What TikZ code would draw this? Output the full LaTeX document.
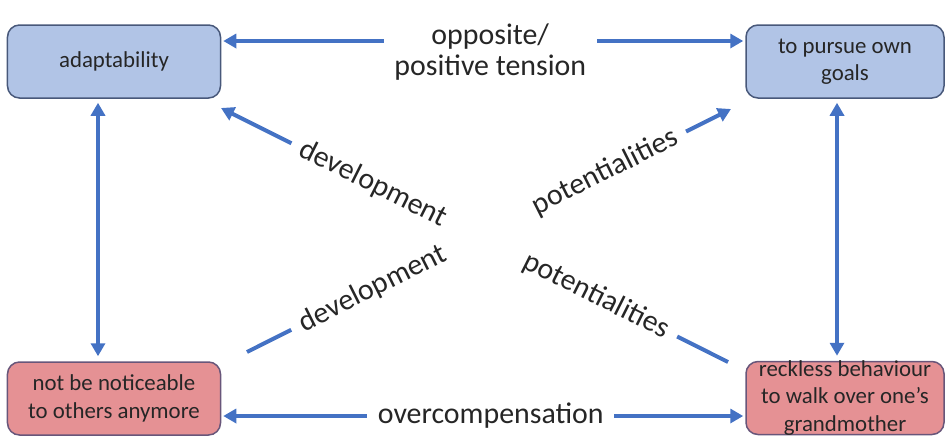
\documentclass[tikz,border=0pt]{standalone}
\usepackage{fontspec}
\setmainfont{Carlito}
\usetikzlibrary{arrows.meta}
\definecolor{boxblue}{RGB}{177,196,230}
\definecolor{blueline}{RGB}{72,88,122}
\definecolor{boxred}{RGB}{229,145,148}
\definecolor{redline}{RGB}{104,86,122}
\definecolor{arrowblue}{RGB}{68,114,196}
\begin{document}
\begin{tikzpicture}[
                x=0.2mm, y=-0.2mm,
                >={Triangle[length=2.6mm,width=2.8mm]},
                box/.style={rectangle, rounded corners=2.4mm, line width=0.3mm, align=center,
                    text=black!85, font=\fontsize{13}{15.5}\selectfont,
                    minimum height=14.6mm, inner ysep=-2pt},
                bluebox/.style={box, fill=boxblue, draw=blueline},
                redbox/.style={box, fill=boxred, draw=redline},
                link/.style={draw=arrowblue, line width=0.8mm},
                tag/.style={fill=white, text=black!85, font=\fontsize{17}{18}\selectfont,
                    align=center, inner xsep=6pt, inner ysep=2pt},
            ]
            \useasboundingbox (0,0) rectangle (948,439);
            \node[bluebox, minimum width=42.6mm] (adapt) at (114,61.5) {adaptability};
            \node[bluebox, minimum width=39.6mm] (goals) at (845,61.5) {to pursue own\\goals};
            \node[redbox, minimum width=42.6mm] (hidden) at (114,398.5) {not be noticeable\\to others anymore};
            \node[redbox, minimum width=39.6mm] (reckless) at (845,398) {reckless behaviour\\to walk over one’s\\grandmother};
            \coordinate (d1s) at (247,352);
            \coordinate (d1e) at (731,109);
            \coordinate (d2s) at (728,362);
            \coordinate (d2e) at (221,108);
            \draw[link, <->, shorten <=0.4mm, shorten >=0.4mm] ([yshift=4.1mm]adapt.east)
                -- node[tag, xshift=1.4mm, yshift=-2.2mm, inner ysep=4pt] {opposite/\\positive tension}
                ([yshift=4.1mm]adapt.east -| goals.west);
            \draw[link, <->, shorten <=0.4mm, shorten >=0.4mm] ([yshift=-3.5mm]hidden.east)
                -- node[tag, xshift=1.5mm, inner ysep=4pt] {overcompensation}
                ([yshift=-3.5mm]hidden.east -| reckless.west);
            \draw[link, <->, shorten <=0.8mm, shorten >=1mm] ([xshift=-3.2mm]adapt.south) -- ([xshift=-3.2mm]hidden.north);
            \draw[link, <->, shorten <=0.8mm, shorten >=1mm] ([xshift=-1.6mm]goals.south) -- ([xshift=-1.6mm]reckless.north);
            \path (d1s) -- (d1e)
                node[tag, sloped, pos=.26] (dev1) {development}
                node[tag, sloped, pos=.74] (pot1) {potentialities};
            \path (d2s) -- (d2e)
                node[tag, sloped, pos=.26] (pot2) {potentialities}
                node[tag, sloped, pos=.70] (dev2) {development};
            \draw[link] (d1s) -- (dev1.west);
            \draw[link, ->] (pot1.east) -- (d1e);
            \draw[link] (d2s) -- (pot2.east);
            \draw[link, ->] (dev2.west) -- (d2e);
            \end{tikzpicture}
\end{document}
